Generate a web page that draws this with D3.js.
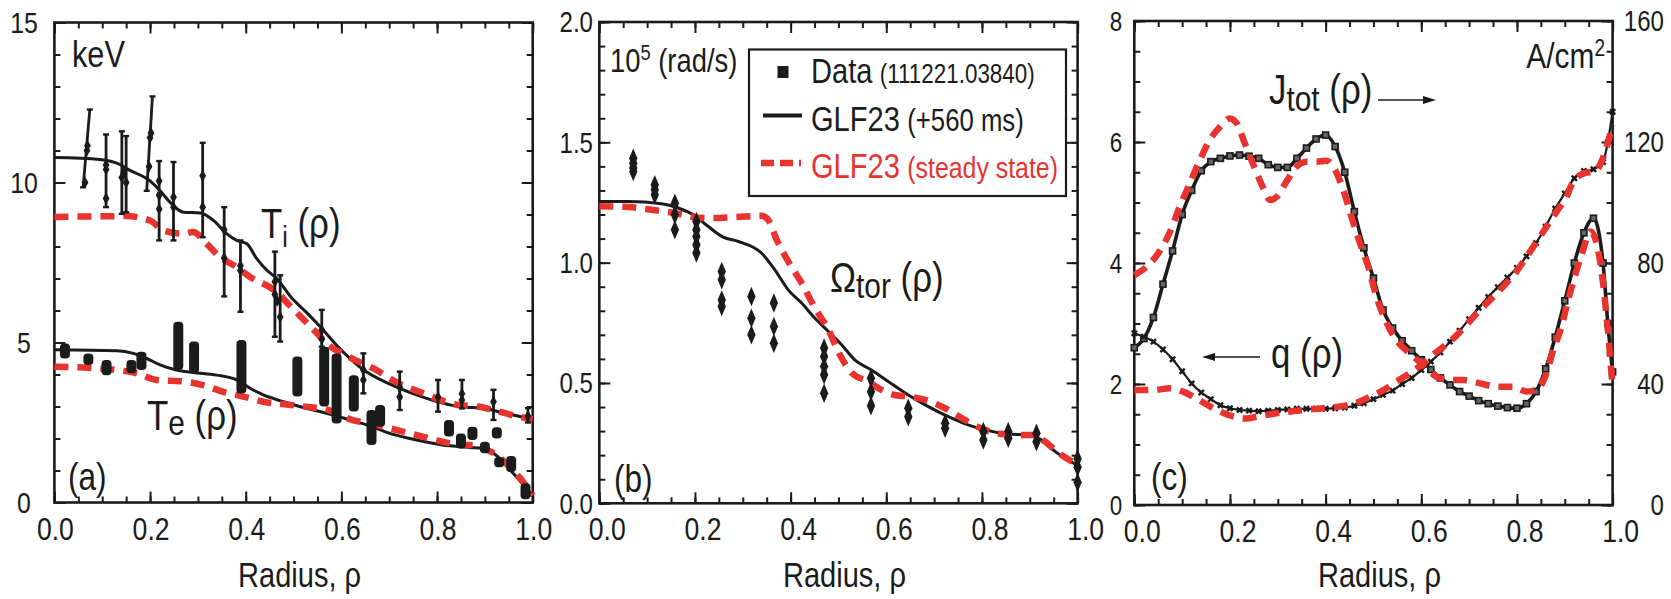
<!DOCTYPE html>
<html>
<head>
<meta charset="utf-8">
<script src="https://cdn.jsdelivr.net/npm/d3@7"></script>
<style>
  body { margin: 0; background: #fff; }
  text { font-family: "Liberation Sans", Arial, sans-serif; fill: #1b1b1b; }
</style>
</head>
<body>
<div class="board"></div>
<script>

// ---- panel (a): Ti and Te, keV ----
var tiFit = [[0,10.78],[0.095,10.72],[0.136,10.57],[0.154,10.41],[0.2,10.05],[0.221,9.74],[0.242,9.38],[0.27,9.07],
  [0.305,9.05],[0.333,8.81],[0.36,8.4],[0.381,8.19],[0.402,8.09],[0.423,7.62],[0.444,7.26],[0.465,7.0],[0.494,6.43],
  [0.529,5.91],[0.556,5.49],[0.591,4.9],[0.646,4.15],[0.698,3.72],[0.75,3.4],[0.803,3.14],[0.855,2.98],[0.892,2.96],
  [0.93,2.83],[1.0,2.6]];
var tiSteady = [[0,8.92],[0.15,8.95],[0.2,8.81],[0.228,8.5],[0.27,8.4],[0.29,8.45],[0.318,8.09],[0.346,7.67],[0.374,7.42],
  [0.409,7.05],[0.459,6.64],[0.501,6.02],[0.536,5.49],[0.575,4.9],[0.616,4.55],[0.668,4.18],[0.72,3.72],[0.765,3.45],
  [0.81,3.19],[0.847,3.04],[0.885,3.0],[0.915,2.9],[0.96,2.72],[1.0,2.6]];
var teFit = [[0,4.77],[0.13,4.74],[0.165,4.66],[0.193,4.5],[0.221,4.3],[0.255,4.14],[0.29,4.06],[0.339,3.98],[0.381,3.83],
  [0.409,3.57],[0.437,3.36],[0.479,3.15],[0.52,2.97],[0.569,2.79],[0.618,2.58],[0.66,2.39],[0.701,2.16],[0.743,2.0],
  [0.785,1.87],[0.827,1.77],[0.869,1.72],[0.897,1.69],[0.918,1.54],[0.931,1.38],[0.96,0.9],[0.982,0.53],[1.0,0.2]];
var teSteady = [[0,4.24],[0.095,4.19],[0.13,4.14],[0.172,4.04],[0.214,3.83],[0.27,3.78],[0.311,3.67],[0.353,3.46],
  [0.395,3.31],[0.437,3.15],[0.493,3.05],[0.541,2.97],[0.562,2.94],[0.59,2.79],[0.618,2.6],[0.66,2.47],[0.701,2.32],
  [0.743,2.16],[0.785,2.0],[0.82,1.87],[0.848,1.8],[0.876,1.8],[0.897,1.69],[0.925,1.48],[0.945,1.21],[0.975,0.74],[1.0,0.22]];
// Ti data bars: [rho bottom, low, rho top, high]
var tiBars = [[0.06,9.85,0.074,12.28],[0.108,9.23,0.108,11.5],[0.141,9.02,0.141,11.6],[0.15,9.07,0.15,11.45],
  [0.193,9.74,0.205,12.69],[0.219,8.19,0.219,10.67],[0.249,8.19,0.249,10.64],[0.31,8.29,0.31,11.24],
  [0.355,6.44,0.355,9.23],[0.389,5.96,0.389,8.19],[0.461,5.18,0.461,7.84],[0.472,5.03,0.472,7.1],
  [0.559,4.87,0.559,6.02],[0.646,3.41,0.646,4.66],[0.722,2.89,0.722,4.09],[0.802,2.84,0.802,3.83],
  [0.852,2.94,0.852,3.83],[0.918,2.58,0.918,3.52],[0.99,2.5,0.99,2.95]];
var tiMarks = [[0.064,10.0],[0.068,11.0],[0.069,11.15],[0.108,10.41],[0.108,10.55],[0.108,9.5],[0.141,10.16],[0.145,10.3],
  [0.15,10.0],[0.198,10.5],[0.2,11.4],[0.202,11.55],[0.219,9.6],[0.219,10.05],[0.219,9.17],[0.249,9.54],[0.249,9.23],
  [0.31,10.21],[0.31,9.23],[0.355,8.52],[0.355,7.64],[0.389,7.4],[0.389,7.25],[0.461,6.9],[0.461,6.5],[0.466,6.3],
  [0.472,5.8],[0.559,5.39],[0.559,5.1],[0.646,4.14],[0.646,3.83],[0.722,3.6],[0.722,3.3],[0.802,3.3],[0.852,3.4],
  [0.852,3.2],[0.918,3.15],[0.99,2.7]];
// Te data: [rho, low, high]
var teBars = [[0.022,4.5,4.97],[0.071,4.3,4.66],[0.109,3.98,4.45],[0.161,4.04,4.45],[0.182,4.14,4.71],[0.259,4.14,5.65],
  [0.292,4.04,5.03],[0.391,3.41,5.08],[0.508,3.31,4.56],[0.564,3.0,4.87],[0.59,2.47,4.66],[0.626,2.84,3.98],
  [0.663,1.8,2.89],[0.681,2.37,3.05],[0.825,2.06,2.58],[0.85,1.69,2.16],[0.874,1.95,2.37],[0.9,1.54,1.9],
  [0.925,2.0,2.35],[0.93,1.1,1.42],[0.955,0.95,1.45],[0.985,0.1,0.6]];

// ---- panel (b): toroidal rotation, 10^5 rad/s ----
var omFit = [[0,1.254],[0.061,1.254],[0.13,1.245],[0.165,1.227],[0.2,1.195],[0.228,1.15],[0.259,1.106],[0.291,1.088],
  [0.339,1.04],[0.367,0.97],[0.395,0.887],[0.423,0.832],[0.451,0.769],[0.479,0.714],[0.507,0.658],[0.534,0.596],
  [0.569,0.554],[0.604,0.506],[0.646,0.45],[0.688,0.402],[0.73,0.36],[0.771,0.326],[0.806,0.305],[0.855,0.288],
  [0.897,0.284],[0.925,0.263],[0.95,0.22],[1.0,0.157]];
var omSteady = [[0,1.234],[0.061,1.231],[0.109,1.22],[0.158,1.206],[0.2,1.189],[0.235,1.185],[0.284,1.189],[0.339,1.195],
  [0.353,1.178],[0.371,1.095],[0.395,1.005],[0.423,0.915],[0.451,0.811],[0.479,0.721],[0.503,0.617],[0.528,0.541],
  [0.562,0.506],[0.59,0.471],[0.618,0.45],[0.646,0.444],[0.681,0.43],[0.723,0.395],[0.764,0.347],[0.806,0.305],
  [0.841,0.288],[0.883,0.284],[0.911,0.284],[0.932,0.256],[0.96,0.21],[1.0,0.16]];
var omRho = [0.071,0.116,0.158,0.203,0.256,0.318,0.365,0.47,0.568,0.646,0.723,0.803,0.855,0.914,1.0];
var omData = [[1.434,1.413,1.393,1.379],[1.324,1.303,1.282],[1.247,1.199,1.137],[1.171,1.137,1.109,1.074,1.04],
  [0.963,0.929,0.845,0.818],[0.859,0.769,0.70],[0.832,0.735,0.665],[0.645,0.61,0.568,0.534,0.457],
  [0.52,0.464,0.405],[0.395,0.36],[0.333,0.312],[0.298,0.263],[0.298,0.27],[0.291,0.256],[0.185,0.15,0.087]];

// ---- panel (c): q (left axis) and Jtot, A/cm2 (right axis) ----
var jFit = [[0,52],[0.02,55],[0.04,62],[0.06,73],[0.08,84],[0.1,96],[0.12,104],[0.14,110.5],[0.16,113.5],[0.18,114.6],
  [0.2,115.4],[0.22,115.7],[0.24,115.3],[0.26,114.6],[0.28,112.5],[0.3,111.6],[0.32,111.6],[0.34,114.6],[0.36,118],
  [0.38,121],[0.4,122.3],[0.42,118.5],[0.44,110],[0.46,97],[0.48,85],[0.5,75],[0.52,64.5],[0.54,58.5],[0.56,54.3],
  [0.58,51],[0.6,48],[0.62,44.8],[0.64,42],[0.66,39.7],[0.68,37.5],[0.7,36],[0.72,34.5],[0.74,33.5],[0.76,32.7],
  [0.78,32.2],[0.8,32],[0.82,33.5],[0.84,37.5],[0.86,45],[0.88,55.5],[0.9,67.5],[0.92,80],[0.94,90],[0.96,94.8],
  [0.98,80],[0.99,60],[1.0,44]];
var jSteady = [[0,76],[0.026,78.8],[0.05,83.2],[0.075,90.4],[0.095,98.6],[0.116,106.3],[0.137,114],[0.158,120.7],
  [0.179,125],[0.2,127.8],[0.214,126.2],[0.231,119.6],[0.252,111.3],[0.27,104.7],[0.284,100.8],[0.298,101.9],
  [0.318,106.9],[0.339,111.8],[0.36,113.5],[0.381,113.5],[0.402,113.8],[0.42,110.7],[0.437,104.1],[0.454,95.3],
  [0.472,86.5],[0.489,78.8],[0.507,68.5],[0.528,60],[0.548,54.5],[0.576,50.1],[0.604,46.3],[0.632,42.4],[0.66,41.3],
  [0.688,41.3],[0.723,40.2],[0.758,39.1],[0.792,39.1],[0.82,37.5],[0.841,38],[0.859,42.4],[0.876,51.2],[0.893,58.9],
  [0.907,67.8],[0.935,82.6],[0.954,90.4],[0.977,77.2],[0.99,58],[1.0,39]];
var qFit = [[0,2.84],[0.02,2.78],[0.04,2.7],[0.06,2.57],[0.08,2.41],[0.1,2.21],[0.12,2.01],[0.14,1.86],[0.16,1.75],
  [0.18,1.65],[0.2,1.6],[0.22,1.57],[0.24,1.56],[0.26,1.55],[0.28,1.56],[0.3,1.57],[0.32,1.58],[0.34,1.59],[0.36,1.59],
  [0.38,1.59],[0.4,1.59],[0.42,1.6],[0.44,1.61],[0.46,1.64],[0.48,1.68],[0.5,1.75],[0.52,1.82],[0.54,1.89],[0.56,2.0],
  [0.58,2.1],[0.6,2.23],[0.62,2.37],[0.64,2.52],[0.66,2.7],[0.68,2.88],[0.7,3.07],[0.72,3.26],[0.74,3.44],[0.76,3.6],
  [0.78,3.76],[0.8,3.92],[0.82,4.11],[0.84,4.33],[0.86,4.6],[0.88,4.9],[0.9,5.15],[0.92,5.4],[0.94,5.52],[0.96,5.55],
  [0.98,5.67],[0.99,6.0],[1.0,6.5]];
var qSteady = [[0,1.9],[0.04,1.9],[0.075,1.93],[0.103,1.87],[0.13,1.76],[0.158,1.63],[0.186,1.52],[0.214,1.45],
  [0.235,1.43],[0.256,1.46],[0.284,1.5],[0.318,1.54],[0.353,1.57],[0.395,1.6],[0.43,1.63],[0.465,1.69],[0.493,1.79],
  [0.521,1.9],[0.548,2.04],[0.576,2.18],[0.604,2.34],[0.632,2.53],[0.66,2.7],[0.688,2.92],[0.716,3.17],[0.744,3.39],
  [0.771,3.61],[0.799,3.86],[0.82,4.1],[0.841,4.35],[0.862,4.6],[0.883,4.85],[0.904,5.1],[0.916,5.32],[0.943,5.49],
  [0.962,5.51],[0.985,5.85],[1.0,6.29]];

// ---- ticks and legend text ----
var xTickVals = [0, 0.2, 0.4, 0.6, 0.8, 1.0];
var xTickText = ['0.0', '0.2', '0.4', '0.6', '0.8', '1.0'];
var aTickVals = [0, 5, 10, 15], aTickText = ['0', '5', '10', '15'];
var bTickVals = [0, 0.5, 1, 1.5, 2], bTickText = ['0.0', '0.5', '1.0', '1.5', '2.0'];
var cTickVals = [0, 2, 4, 6, 8], cTickText = ['0', '2', '4', '6', '8'];
var cRightVals = [0, 40, 80, 120, 160], cRightText = ['0', '40', '80', '120', '160'];
var legendMain = ['Data', 'GLF23', 'GLF23'];
var legendNote = ['(111221.03840)', '(+560 ms)', '(steady state)'];

var ink = '#1b1b1b', red = '#e8332f';
var narrow = 0.83;   // no condensed face installed, squeeze Liberation Sans instead
var xMinor = d3.range(0, 1.001, 0.05);

var svg = d3.select('.board').append('svg')
            .attr('width', 1671)
            .attr('height', 599);
svg.append('rect').attr('width', 1671).attr('height', 599).attr('fill', '#fff');

var place = function(xPos, yPos) {
  return 'translate(' + xPos + ',' + yPos + ') scale(' + narrow + ',1)';
};

var makePanel = function(box, yDom, yMajor, yMinor, labelDx) {
  var x = d3.scaleLinear().domain([0, 1]).range([box.l, box.r]);
  var y = d3.scaleLinear().domain(yDom).range([box.b, box.t]);
  var g = svg.append('g');
  var tk = function(axis, tr, vals, len) {
    g.append('g').attr('transform', 'translate(' + tr + ')')
      .call(axis.tickValues(vals).tickSizeInner(-len).tickSizeOuter(0).tickFormat(''))
      .call(function(s) {
        s.select('.domain').remove();
        s.selectAll('line').attr('stroke', ink).attr('stroke-width', 2);
      });
  };
  tk(d3.axisBottom(x), [0, box.b], xMinor, 6);
  tk(d3.axisBottom(x), [0, box.b], xTickVals, 11);
  tk(d3.axisTop(x), [0, box.t], xMinor, 6);
  tk(d3.axisTop(x), [0, box.t], xTickVals, 11);
  tk(d3.axisLeft(y), [box.l, 0], yMinor, 6);
  tk(d3.axisLeft(y), [box.l, 0], yMajor, 11);
  tk(d3.axisRight(y), [box.r, 0], yMinor, 6);
  tk(d3.axisRight(y), [box.r, 0], yMajor, 11);
  g.append('rect')
    .attr('x', box.l).attr('y', box.t)
    .attr('width', box.r - box.l).attr('height', box.b - box.t)
    .attr('fill', 'none').attr('stroke', ink).attr('stroke-width', 2.6);
  g.selectAll('text.xt').data(xTickVals).enter().append('text')
    .attr('transform', function(d) { return place(x(d) + labelDx, box.b + 37); })
    .attr('text-anchor', 'middle')
    .attr('font-size', 32)
    .text(function(d, i) { return xTickText[i]; });
  g.append('text')
    .attr('transform', place((box.l + box.r) / 2 + 6, 587))
    .attr('text-anchor', 'middle')
    .attr('font-size', 35)
    .text('Radius, ρ');
  return {x: x, y: y, g: g, box: box};
};

var yLabels = function(p, scale, vals, texts, xPos, anchor, size) {
  p.g.selectAll(null).data(vals).enter().append('text')
    .attr('transform', function(d) { return place(xPos, scale(d)); })
    .attr('dy', '0.36em')
    .attr('text-anchor', anchor)
    .attr('font-size', size)
    .text(function(d, i) { return texts[i]; });
};

var drawCurve = function(p, data, dashed, width, scale) {
  var ys = scale || p.y;
  p.g.append('path').datum(data)
    .attr('d', d3.line()
      .x(function(d) { return p.x(d[0]); })
      .y(function(d) { return ys(d[1]); })
      .curve(d3.curveMonotoneX))
    .attr('fill', 'none')
    .attr('stroke', dashed ? red : ink)
    .attr('stroke-width', width)
    .attr('stroke-dasharray', dashed ? '14,9' : null);
};

var label = function(p, xPos, yPos, parts, size) {
  var t = p.g.append('text').attr('transform', place(xPos, yPos)).attr('font-size', size);
  parts.forEach(function(s) {
    t.append('tspan').attr('dy', s[1] || 0).attr('font-size', s[2] || size).text(s[0]);
  });
  return t;
};

var arrow = function(p, x1, x2, yPos) {
  var dir = x2 > x1 ? 1 : -1;
  p.g.append('line').attr('x1', x1).attr('x2', x2 - dir * 10).attr('y1', yPos).attr('y2', yPos)
    .attr('stroke', ink).attr('stroke-width', 1.6);
  p.g.append('path')
    .attr('d', 'M' + x2 + ',' + yPos + 'l' + (-dir * 13) + ',-4l0,8z')
    .attr('fill', ink);
};

// ---------- panel (a) ----------
var pa = makePanel({l: 54.4, r: 532.7, t: 22.5, b: 502.5}, [0, 15], aTickVals, d3.range(0, 15.1, 1), 1);
yLabels(pa, pa.y, aTickVals, aTickText, 24, 'middle', 30);
drawCurve(pa, tiFit, false, 3);
drawCurve(pa, teFit, false, 3);
drawCurve(pa, tiSteady, true, 6.5);
drawCurve(pa, teSteady, true, 6.5);

pa.g.selectAll('line.tib').data(tiBars).enter().append('line')
  .attr('x1', function(d) { return pa.x(d[0]); })
  .attr('y1', function(d) { return pa.y(d[1]); })
  .attr('x2', function(d) { return pa.x(d[2]); })
  .attr('y2', function(d) { return pa.y(d[3]); })
  .attr('stroke', ink).attr('stroke-width', 2.8);
[1, 3].forEach(function(k) {
  pa.g.selectAll(null).data(tiBars).enter().append('line')
    .attr('x1', function(d) { return pa.x(d[k - 1]) - 3; })
    .attr('x2', function(d) { return pa.x(d[k - 1]) + 3; })
    .attr('y1', function(d) { return pa.y(d[k]); })
    .attr('y2', function(d) { return pa.y(d[k]); })
    .attr('stroke', ink).attr('stroke-width', 2.4);
});
pa.g.selectAll('path.tim').data(tiMarks).enter().append('path')
  .attr('d', d3.symbol(d3.symbolDiamond, 40))
  .attr('transform', function(d) { return 'translate(' + pa.x(d[0]) + ',' + pa.y(d[1]) + ')'; })
  .attr('fill', ink);
pa.g.selectAll('rect.te').data(teBars).enter().append('rect')
  .attr('x', function(d) { return pa.x(d[0]) - 5; })
  .attr('y', function(d) { return pa.y(d[2]); })
  .attr('width', 10)
  .attr('height', function(d) { return pa.y(d[1]) - pa.y(d[2]); })
  .attr('rx', 4)
  .attr('fill', ink);

label(pa, 72, 67, [['keV']], 37);
label(pa, 261, 238, [['T'], ['i', 9, 30], [' (ρ)', -9]], 42);
label(pa, 147, 430, [['T'], ['e', 5, 36], [' (ρ)', -5]], 42);
label(pa, 68, 490, [['(a)']], 38);

// ---------- panel (b) ----------
var pb = makePanel({l: 599.3, r: 1077.6, t: 22, b: 503.3}, [0, 2], bTickVals, d3.range(0, 2.01, 0.1), 8);
yLabels(pb, pb.y, bTickVals, bTickText, 593, 'end', 29);
drawCurve(pb, omFit, false, 3);
drawCurve(pb, omSteady, true, 6.5);
omRho.forEach(function(r, i) {
  pb.g.selectAll(null).data(omData[i]).enter().append('path')
    .attr('d', d3.symbol(d3.symbolDiamond, 60))
    .attr('transform', function(d) { return 'translate(' + pb.x(r) + ',' + pb.y(d) + ') scale(1,1.35)'; })
    .attr('fill', ink);
});
label(pb, 610, 72, [['10'], ['5', -12, 22], [' (rad/s)', 12]], 33);
label(pb, 830, 292, [['Ω'], ['tor', 6, 36], [' (ρ)', -6]], 42);
label(pb, 614, 492, [['(b)']], 38);

// legend
var lg = pb.g.append('g');
lg.append('rect').attr('x', 749).attr('y', 49.5).attr('width', 317).attr('height', 146.5)
  .attr('fill', '#fff').attr('stroke', ink).attr('stroke-width', 2.2);
var rowY = d3.scalePoint().domain(d3.range(legendMain.length)).range([83, 178]);
lg.append('rect').attr('x', 777.5).attr('y', rowY(0) - 17).attr('width', 11).attr('height', 12).attr('fill', ink);
lg.append('line').attr('x1', 763).attr('x2', 802).attr('y1', rowY(1) - 15).attr('y2', rowY(1) - 15)
  .attr('stroke', ink).attr('stroke-width', 4);
lg.append('line').attr('x1', 761).attr('x2', 801).attr('y1', rowY(2) - 15).attr('y2', rowY(2) - 15)
  .attr('stroke', red).attr('stroke-width', 6.5).attr('stroke-dasharray', '13,6');
var noteSize = [27, 31, 30];
legendMain.forEach(function(m, i) {
  var t = lg.append('text').attr('transform', place(811, rowY(i))).attr('font-size', 35);
  if (i === 2) t.style('fill', red);
  t.append('tspan').text(m);
  t.append('tspan').attr('font-size', noteSize[i]).attr('dx', 9).text(legendNote[i])
    .style('fill', i === 2 ? red : ink);
});

// ---------- panel (c) ----------
var pc = makePanel({l: 1134.3, r: 1612.6, t: 21, b: 505}, [0, 8], cTickVals, d3.range(0, 8.01, 0.5), 8);
var jy = d3.scaleLinear().domain([0, 160]).range([505, 21]);
yLabels(pc, pc.y, cTickVals, cTickText, 1116, 'middle', 27);
yLabels(pc, jy, cRightVals, cRightText, 1664, 'end', 29);
drawCurve(pc, qFit, false, 2.2);
drawCurve(pc, jFit, false, 3.6, jy);
pc.g.selectAll('rect.jm').data(jFit).enter().append('rect')
  .attr('x', function(d) { return pc.x(d[0]) - 3; })
  .attr('y', function(d) { return jy(d[1]) - 3; })
  .attr('width', 6).attr('height', 6)
  .attr('fill', '#666').attr('stroke', ink).attr('stroke-width', 1.6);
pc.g.selectAll('path.qm').data(qFit).enter().append('path')
  .attr('d', d3.symbol(d3.symbolCross, 30))
  .attr('transform', function(d) { return 'translate(' + pc.x(d[0]) + ',' + pc.y(d[1]) + ') rotate(45)'; })
  .attr('fill', ink);
drawCurve(pc, qSteady, true, 6.5);
drawCurve(pc, jSteady, true, 6.5, jy);

label(pc, 1605, 68, [['A/cm'], ['2', -12, 23]], 36).attr('text-anchor', 'end');
label(pc, 1269, 104, [['J'], ['tot', 7, 36], [' (ρ)', -7]], 42);
arrow(pc, 1378, 1436, 100);
label(pc, 1271, 368, [['q (ρ)']], 42);
arrow(pc, 1260, 1202, 357);
label(pc, 1151, 490, [['(c)']], 38);

</script>
</body>
</html>
